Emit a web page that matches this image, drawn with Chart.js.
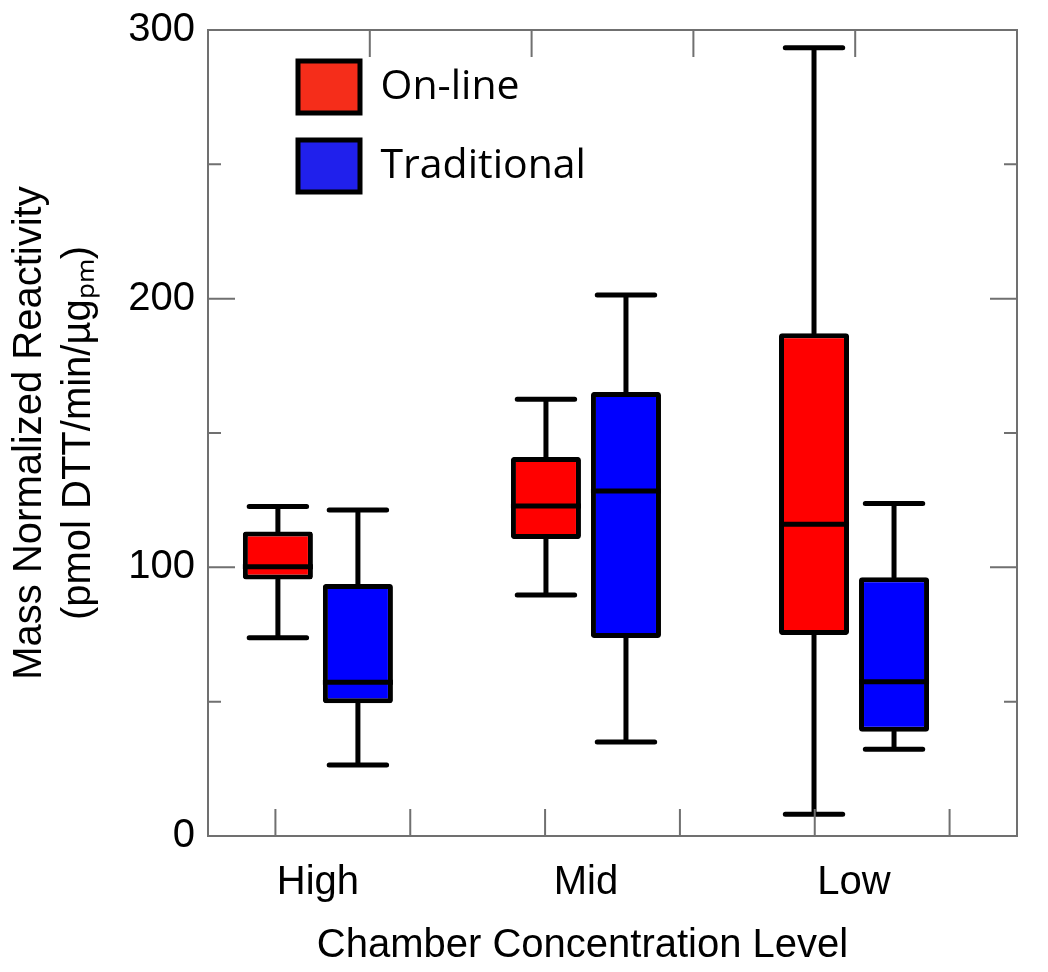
<!DOCTYPE html>
<html>
<head>
<meta charset="utf-8">
<title>Mass Normalized Reactivity</title>
<script src="https://cdn.jsdelivr.net/npm/chart.js@4.4.1/dist/chart.umd.min.js"></script>
<style>
    html, body { margin: 0; padding: 0; background: #ffffff; }
    #boxChart { display: block; }
</style>
</head>
<body>
<canvas id="boxChart" width="1048" height="972"></canvas>
<script>
// =========================
// DATA
// =========================

const categories = ["High", "Mid", "Low"];

const onlineMin    = [73.8, 89.7, 8.1];
const onlineQ1     = [95.5, 110.5, 74.8];
const onlineMedian = [100.2, 122.8, 116.0];
const onlineQ3     = [113.3, 141.1, 187.1];
const onlineMax    = [122.6, 162.6, 293.4];

const tradMin    = [26.4, 35.0, 32.3];
const tradQ1     = [49.4, 73.7, 38.8];
const tradMedian = [57.2, 128.4, 57.4];
const tradQ3     = [93.8, 165.3, 96.3];
const tradMax    = [121.3, 201.4, 123.8];

const yMin = 0;
const yMax = 300;
const yStep = 50;
const yLabelStep = 100;

// =========================
// STYLE
// =========================

const axisFont = "'Liberation Sans', Arial, sans-serif";
const legendColors = ["#f52d1a", "#2020ec"];
const frameColor = "#707070";

Chart.defaults.font.family = axisFont;
Chart.defaults.color = "#000000";

function boxData(q1, q3) {
    return categories.map((c, i) => ({ x: i, y: [q1[i], q3[i]] }));
}

// =========================
// PLUGINS
// =========================

// whiskers + median line on top of the floating bars
const boxPlotParts = {
    id: "boxPlotParts",
    afterDatasetsDraw(chart) {

        const ctx = chart.ctx;
        const y = chart.scales.y;

        ctx.save();
        ctx.strokeStyle = "#000000";
        ctx.lineWidth = 5;

        chart.data.datasets.forEach((ds, i) => {

            const meta = chart.getDatasetMeta(i);

            meta.data.forEach((bar, j) => {

                const half = bar.width / 2;
                const cap = bar.width * 0.41;

                const pMax = y.getPixelForValue(ds.stats.max[j]);
                const pMin = y.getPixelForValue(ds.stats.min[j]);
                const pMed = y.getPixelForValue(ds.stats.median[j]);

                const top = Math.min(bar.y, bar.base);
                const bottom = Math.max(bar.y, bar.base);

                ctx.lineCap = "round";
                ctx.beginPath();
                ctx.moveTo(bar.x, top);
                ctx.lineTo(bar.x, pMax);
                ctx.moveTo(bar.x - cap, pMax);
                ctx.lineTo(bar.x + cap, pMax);
                ctx.moveTo(bar.x, bottom);
                ctx.lineTo(bar.x, pMin);
                ctx.moveTo(bar.x - cap, pMin);
                ctx.lineTo(bar.x + cap, pMin);
                ctx.stroke();

                ctx.lineCap = "butt";
                ctx.beginPath();
                ctx.moveTo(bar.x - half, pMed);
                ctx.lineTo(bar.x + half, pMed);
                ctx.stroke();
            });
        });

        ctx.restore();
    }
};

// box frame with inward ticks
const frame = {
    id: "frame",
    afterDraw(chart) {

        const { ctx, chartArea: a, scales } = chart;
        const w = a.right - a.left;

        ctx.save();
        ctx.strokeStyle = frameColor;
        ctx.lineWidth = 2;

        ctx.strokeRect(a.left, a.top, w, a.bottom - a.top);

        ctx.beginPath();

        scales.y.ticks.forEach(t => {
            const py = scales.y.getPixelForValue(t.value);
            const len = t.value % yLabelStep === 0 ? 27 : 13;
            ctx.moveTo(a.left, py);
            ctx.lineTo(a.left + len, py);
            ctx.moveTo(a.right, py);
            ctx.lineTo(a.right - len, py);
        });

        for (let k = 0; k < 6; k++) {
            const px = a.left + (k + 0.5) * w / 6;
            ctx.moveTo(px, a.bottom);
            ctx.lineTo(px, a.bottom - 27);
        }

        for (let k = 1; k < 5; k++) {
            const px = a.left + k * w / 5;
            ctx.moveTo(px, a.top);
            ctx.lineTo(px, a.top + 27);
        }

        ctx.stroke();
        ctx.restore();
    }
};

// legend inside the plot a bit in from the corner,
// x title sits a little left of the plot centre
const layoutTweaks = {
    id: "layoutTweaks",
    afterLayout(chart) {
        chart.legend.left = chart.chartArea.left + 63;
        chart.legend.top = chart.chartArea.top + 4;
        chart.scales.x.left -= 30;
        chart.scales.x.right -= 30;
    }
};

// =========================
// CHART
// =========================

const boxChart = new Chart(
    document.getElementById("boxChart"),
    {
        type: "bar",
        data: {
            datasets: [
                {
                    label: "On-line",
                    data: boxData(onlineQ1, onlineQ3),
                    stats: { min: onlineMin, median: onlineMedian, max: onlineMax },
                    backgroundColor: "#ff0000",
                    borderColor: "#000000",
                    borderWidth: 5,
                    borderSkipped: false,
                    borderRadius: 3
                },
                {
                    label: "Traditional",
                    data: boxData(tradQ1, tradQ3),
                    stats: { min: tradMin, median: tradMedian, max: tradMax },
                    backgroundColor: "#0000ff",
                    borderColor: "#000000",
                    borderWidth: 5,
                    borderSkipped: false,
                    borderRadius: 3
                }
            ]
        },
        options: {
            responsive: false,
            animation: false,
            categoryPercentage: 0.597,
            barPercentage: 0.875,
            layout: {
                padding: { top: 30, right: 31, bottom: 0, left: 0 }
            },
            plugins: {
                tooltip: { enabled: false },
                legend: {
                    position: "chartArea",
                    align: "start",
                    labels: {
                        boxWidth: 62,
                        boxHeight: 52,
                        padding: 27,
                        color: "#000000",
                        font: { family: "'Open Sans', sans-serif", size: 41 },
                        generateLabels(chart) {
                            const items = Chart.defaults.plugins.legend.labels.generateLabels(chart);
                            items.forEach((item, i) => {
                                item.fillStyle = legendColors[i];
                                item.strokeStyle = "#000000";
                                item.lineWidth = 5;
                            });
                            return items;
                        }
                    }
                }
            },
            scales: {
                x: {
                    type: "linear",
                    min: -0.41,
                    max: 2.608,
                    offset: false,
                    afterBuildTicks(scale) {
                        scale.ticks = categories.map((c, i) => ({ value: i }));
                    },
                    afterFit(scale) {
                        scale.height = 136;
                    },
                    ticks: {
                        autoSkip: false,
                        maxRotation: 0,
                        padding: 23,
                        font: { size: 40 },
                        callback: value => categories[value]
                    },
                    grid: { display: false, drawTicks: false },
                    border: { display: false },
                    title: {
                        display: true,
                        text: "Chamber Concentration Level",
                        font: { size: 40 },
                        padding: { top: 0, bottom: 2 }
                    }
                },
                y: {
                    min: yMin,
                    max: yMax,
                    afterFit(scale) {
                        scale.width = 208;
                        scale.paddingTop = 20;
                    },
                    ticks: {
                        stepSize: yStep,
                        padding: 13,
                        font: { size: 40 },
                        callback: value => value % yLabelStep === 0 ? value : ""
                    },
                    grid: { display: false, drawTicks: false },
                    border: { display: false },
                    title: {
                        display: true,
                        text: ["Mass Normalized Reactivity", "(pmol DTT/min/\u00b5g\u209a\u2098)"],
                        font: { size: 40, lineHeight: 1.225 },
                        padding: { top: 5, bottom: 0 }
                    }
                }
            }
        },
        plugins: [boxPlotParts, frame, layoutTweaks]
    }
);
</script>
</body>
</html>
